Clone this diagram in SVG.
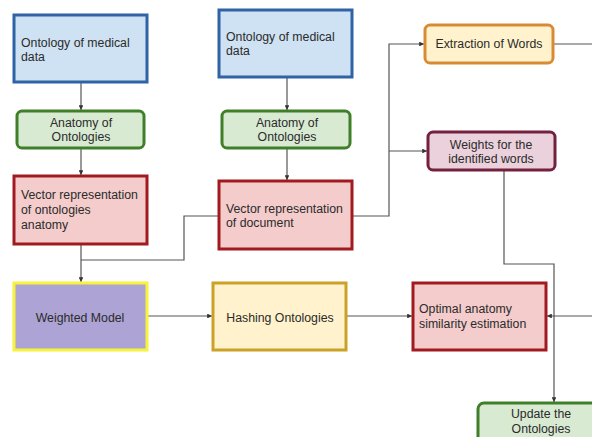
<svg xmlns="http://www.w3.org/2000/svg" width="592" height="437" viewBox="0 0 592 437">
<style>
text{font-family:"Liberation Sans",Arial,sans-serif;font-size:12.3px;fill:#2b2b2b}
.c{text-anchor:middle}
.blue{fill:#cfe2f3;stroke:#2f62a6;stroke-width:3}
.green{fill:#d9ead3;stroke:#3f7f2a;stroke-width:3}
.red{fill:#f4cccc;stroke:#a11a1f;stroke-width:3}
.purple{fill:#ada3d4;stroke:#f7f23a;stroke-width:3}
.yellow{fill:#fff2cc;stroke:#c9a227;stroke-width:3}
.orange{fill:#fff2cc;stroke:#d98a35;stroke-width:3}
.pink{fill:#ead1dc;stroke:#74213f;stroke-width:3}
.ln{fill:none;stroke:#555;stroke-width:1.2}
</style>
<defs>
<marker id="ah" viewBox="0 0 6 6" refX="6" refY="3" markerWidth="4" markerHeight="4" orient="auto">
<path d="M0,0L6,3L0,6z" fill="#333"/>
</marker>
</defs>
<g id="connectors">
<path class="ln" d="M81,83V110" marker-end="url(#ah)"/>
<path class="ln" d="M81,148V175" marker-end="url(#ah)"/>
<path class="ln" d="M287,78V110" marker-end="url(#ah)"/>
<path class="ln" d="M287,148V180" marker-end="url(#ah)"/>
<path class="ln" d="M81,244V282" marker-end="url(#ah)"/>
<path class="ln" d="M219,216H184V260H81"/>
<path class="ln" d="M147,316H212" marker-end="url(#ah)"/>
<path class="ln" d="M346,316H412" marker-end="url(#ah)"/>
<path class="ln" d="M352,216H389V44H424" marker-end="url(#ah)"/>
<path class="ln" d="M389,151H427" marker-end="url(#ah)"/>
<path class="ln" d="M553,44H592"/>
<path class="ln" d="M504,170V264H554V402" marker-end="url(#ah)"/>
<path class="ln" d="M592,316H547" marker-end="url(#ah)"/>
</g>
<g id="onto1">
<rect class="blue" x="14" y="15" width="133" height="67"/>
<text x="21" y="47">Ontology of medical</text>
<text x="21" y="61">data</text>
</g>
<g id="anatomy1">
<rect class="green" x="17" y="111" width="127" height="37" rx="5"/>
<text class="c" x="81" y="127">Anatomy of</text>
<text class="c" x="81" y="141">Ontologies</text>
</g>
<g id="vector1">
<rect class="red" x="14" y="176" width="133" height="68"/>
<text x="21" y="199">Vector representation</text>
<text x="21" y="214">of ontologies</text>
<text x="21" y="229">anatomy</text>
</g>
<g id="onto2">
<rect class="blue" x="219" y="10" width="133" height="67"/>
<text x="226" y="41">Ontology of medical</text>
<text x="226" y="55">data</text>
</g>
<g id="anatomy2">
<rect class="green" x="222" y="111" width="128" height="37" rx="5"/>
<text class="c" x="287" y="127">Anatomy of</text>
<text class="c" x="287" y="141">Ontologies</text>
</g>
<g id="vector2">
<rect class="red" x="219" y="181" width="133" height="68"/>
<text x="226" y="213">Vector representation</text>
<text x="226" y="227">of document</text>
</g>
<g id="extraction">
<rect class="orange" x="425" y="25" width="128" height="38" rx="5"/>
<text class="c" x="489" y="48">Extraction of Words</text>
</g>
<g id="weights">
<rect class="pink" x="428" y="132" width="127" height="38" rx="5"/>
<text class="c" x="491" y="149">Weights for the</text>
<text class="c" x="491" y="163">identified words</text>
</g>
<g id="weighted">
<rect class="purple" x="14" y="283" width="133" height="67"/>
<text class="c" x="80" y="322">Weighted Model</text>
</g>
<g id="hashing">
<rect class="yellow" x="213" y="283" width="133" height="67"/>
<text class="c" x="280" y="322">Hashing Ontologies</text>
</g>
<g id="optimal">
<rect class="red" x="413" y="283" width="133" height="67"/>
<text x="419" y="313">Optimal anatomy</text>
<text x="419" y="328">similarity estimation</text>
</g>
<g id="update">
<rect class="green" x="478" y="403" width="128" height="40" rx="6"/>
<text class="c" x="541" y="418">Update the</text>
<text class="c" x="541" y="433">Ontologies</text>
</g>
</svg>
